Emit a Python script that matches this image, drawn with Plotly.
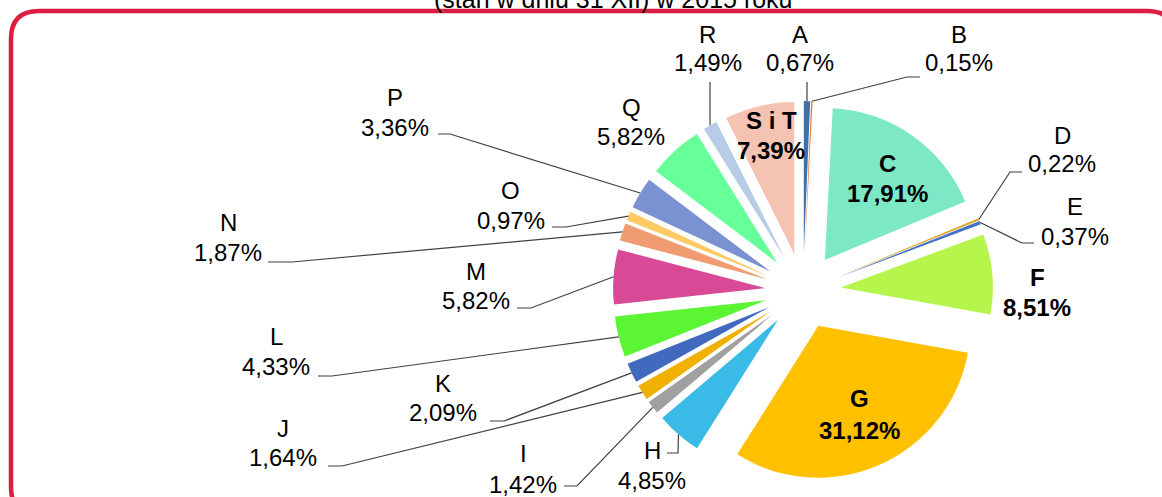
import math
import plotly.graph_objects as go

# ---------------- data ----------------
categories = ["A", "B", "C", "D", "E", "F", "G", "H", "I", "J", "K", "L",
              "M", "N", "O", "P", "Q", "R", "S i T"]
shares = [0.67, 0.15, 17.91, 0.22, 0.37, 8.51, 31.12, 4.85, 1.42, 1.64, 2.09,
          4.33, 5.82, 1.87, 0.97, 3.36, 5.82, 1.49, 7.39]
colors = ["#3C72A6", "#ED7D31", "#7DE8C6", "#E0A526", "#4472C4", "#B6F54C",
          "#FFC000", "#3ABAE6", "#A0A0A0", "#F0B000", "#4169BE", "#5BF534",
          "#D84A96", "#F09C70", "#FFCA66", "#7B92D2", "#66FF99", "#B8CCE8",
          "#F4C3B1"]
bold_labels = ["C", "F", "G", "S i T"]
title_text = "(stan w dniu 31 XII) w 2015 roku"

# ---------------- layout constants (window pixels) ----------------
W, H = 1162, 497
OFF = 0                                 # body margin removed via post_script
PULL = 0.25
CX, CY, REACH = 803, 291, 190           # pie centre and outer reach incl. pull

# label centre x, name-line y, value-line y
label_pos = {
    "A": (800, 34, 62), "B": (959, 34, 62), "R": (708, 34, 62),
    "Q": (631, 108, 137), "P": (395, 97, 127), "O": (511, 191, 220),
    "N": (228, 223, 252), "M": (476, 271, 300), "L": (276, 336, 366),
    "K": (443, 383, 412), "J": (283, 428, 457), "I": (523, 453, 484),
    "H": (652, 450, 480), "D": (1062, 135, 164), "E": (1075, 207, 236),
    "F": (1037, 277, 307), "C": (887, 163, 193), "S i T": (771, 120, 150),
    "G": (859, 398, 430),
}
# leader line points from the label side toward the slice
leader_pts = {
    "A": [(807, 82)], "B": [(920, 77), (907, 77)], "R": [(710, 82)],
    "P": [(438, 134), (450, 134)], "O": [(552, 227), (566, 227)],
    "N": [(268, 262), (292, 262)], "M": [(517, 308), (531, 308)],
    "L": [(318, 376), (332, 376)], "K": [(490, 421), (504, 421)],
    "J": [(328, 466), (342, 466)], "I": [(564, 486), (577, 486)],
    "H": [(667, 453), (678, 453)], "D": [(1022, 172), (1010, 172)],
    "E": [(1034, 243), (1022, 243)],
}

FONT = "Liberation Sans, Arial, sans-serif"
FS = 24


def px(x):
    return (x - OFF) / W


def py(y):
    return 1 - (y - OFF) / H


fig = go.Figure()
fig.add_trace(go.Pie(
    labels=categories, values=shares, sort=False, direction="clockwise",
    rotation=0, pull=[PULL] * len(shares),
    marker=dict(colors=colors, line=dict(width=0)),
    textinfo="none", hoverinfo="label+percent", showlegend=False,
    domain=dict(x=[px(CX - REACH), px(CX + REACH)],
                y=[py(CY + REACH), py(CY - REACH)]),
))

annotations = []
shapes = []


def fmt(v):
    return f"{v:.2f}".replace(".", ",") + "%"


total = sum(shares)
cum = 0.0
for cat, v in zip(categories, shares):
    mid = (cum + v / 2) / total * 2 * math.pi
    cum += v
    ax = CX + REACH * math.sin(mid)
    ay = CY - REACH * math.cos(mid)
    x, yn, yv = label_pos[cat]
    b = cat in bold_labels
    for txt, yy in ((cat, yn), (fmt(v), yv)):
        annotations.append(dict(
            x=px(x), y=py(yy), xref="paper", yref="paper", showarrow=False,
            text=f"<b>{txt}</b>" if b else txt, xanchor="center",
            yanchor="middle",
            font=dict(family=FONT, size=FS, color="#000000")))
    if cat in leader_pts:
        pts = leader_pts[cat] + [(ax, ay)]
        path = "M " + " L ".join(f"{px(a):.5f},{py(c):.5f}" for a, c in pts)
        shapes.append(dict(type="path", xref="paper", yref="paper", path=path,
                           line=dict(color="#404040", width=1.2)))

# cut-off title line at the top
annotations.append(dict(x=px(613), y=py(-1), xref="paper", yref="paper",
                        showarrow=False, text=title_text, xanchor="center",
                        yanchor="middle",
                        font=dict(family=FONT, size=25, color="#000000")))

# red rounded frame
x0, x1, y0, y1, rr = 11, 1175, 11, 515, 28
frame = (f"M {px(x0 + rr)},{py(y0)} L {px(x1 - rr)},{py(y0)} "
         f"Q {px(x1)},{py(y0)} {px(x1)},{py(y0 + rr)} "
         f"L {px(x1)},{py(y1 - rr)} Q {px(x1)},{py(y1)} {px(x1 - rr)},{py(y1)} "
         f"L {px(x0 + rr)},{py(y1)} Q {px(x0)},{py(y1)} {px(x0)},{py(y1 - rr)} "
         f"L {px(x0)},{py(y0 + rr)} Q {px(x0)},{py(y0)} {px(x0 + rr)},{py(y0)} Z")
shapes.append(dict(type="path", xref="paper", yref="paper", path=frame,
                   line=dict(color="#DB1E41", width=4.5), layer="above"))

fig.update_layout(
    width=W, height=H, margin=dict(l=0, r=0, t=0, b=0),
    paper_bgcolor="#FFFFFF", plot_bgcolor="#FFFFFF",
    annotations=annotations, shapes=shapes,
)
fig.write_html("out.html", config={"displayModeBar": False},
               post_script="document.body.style.margin='0';"
                           "document.body.style.overflow='hidden';")
